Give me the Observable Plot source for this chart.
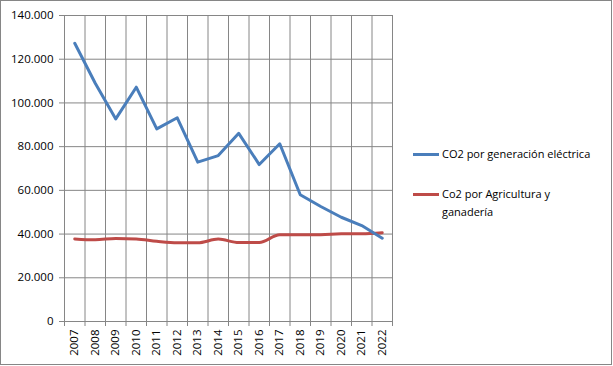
<!DOCTYPE html>
<html><head><meta charset="utf-8">
<script src="https://cdn.jsdelivr.net/npm/d3@7"></script>
<script src="https://cdn.jsdelivr.net/npm/@observablehq/plot@0.6"></script>
<style>
body{margin:0;background:#fff;}
#wrap{position:relative;width:613px;height:366px;overflow:hidden;}
#frame{position:absolute;left:0;top:0;width:610px;height:363px;border:1px solid #868686;pointer-events:none;}
.leg{position:absolute;font-family:"Open Sans",sans-serif;font-size:11px;color:#000;line-height:18px;white-space:nowrap;}
.sw{position:absolute;height:3px;width:26px;}
</style>
</head><body>
<div id="wrap"><div id="chart"></div><div id="frame"></div></div>
<script>
const years = [2007,2008,2009,2010,2011,2012,2013,2014,2015,2016,2017,2018,2019,2020,2021,2022];
const electrica = [127300,109000,92700,107200,88100,93200,72900,75900,86100,71800,81300,58000,52600,47700,43900,38100];
const agricultura = [37800,37400,38000,37800,36700,36000,36000,37700,36100,36100,39700,39700,39700,40100,40100,40600];
const yTicks = [0,20000,40000,60000,80000,100000,120000,140000];
const seriesNames = ["CO2 por generación eléctrica","Co2 por Agricultura y ganadería"];
const colors = ["#4a7ebb","#be4b48"];

const elecData = years.map((y,i)=>({year:y,value:electrica[i]}));
const agriData = years.map((y,i)=>({year:y,value:agricultura[i]}));
const bounds = [years[0]-0.5, ...years.map(y=>y+0.5)];
const fmt = d3.formatLocale({thousands:".",decimal:",",grouping:[3]}).format(",");

const plot = Plot.plot({
  width:613, height:366,
  marginLeft:64, marginRight:221, marginTop:15, marginBottom:45,
  x:{domain:[years[0]-0.5, years[years.length-1]+0.5]},
  y:{domain:[0,140000]},
  style:{fontFamily:"Open Sans, sans-serif", fontSize:"11px", color:"#000", background:"transparent"},
  marks:[
    Plot.ruleY(yTicks,{stroke:"#868686",strokeWidth:1,strokeOpacity:1}),
    Plot.ruleX(bounds,{stroke:"#868686",strokeWidth:1,strokeOpacity:1}),
    Plot.axisX(bounds,{tickSize:5,tickFormat:()=>"",stroke:"#868686",strokeOpacity:1,label:null}),
    Plot.axisX(years,{tickSize:0,tickRotate:-90,tickPadding:8,tickFormat:d=>String(d),label:null,fill:"#000",fontSize:11.5}),
    Plot.axisY(yTicks,{tickSize:5,tickPadding:6,tickFormat:d=>fmt(d),stroke:"#868686",strokeOpacity:1,label:null,fill:"#000",fontSize:11.5}),
    Plot.line(agriData,{x:"year",y:"value",stroke:colors[1],strokeWidth:3,curve:"monotone-x"}),
    Plot.line(elecData,{x:"year",y:"value",stroke:colors[0],strokeWidth:3,strokeLinejoin:"round"})
  ]
});
document.getElementById("chart").appendChild(plot);

const wrap = document.getElementById("wrap");
function addLegend(color, lines, y){
  const sw = document.createElement("div");
  sw.className="sw"; sw.style.background=color; sw.style.left="413px"; sw.style.top=(y-1.5)+"px";
  wrap.appendChild(sw);
  const t = document.createElement("div");
  t.className="leg"; t.style.left="442px"; t.style.top=(y-9)+"px";
  t.innerHTML = lines.join("<br>");
  wrap.appendChild(t);
}
addLegend(colors[0],[seriesNames[0]],154);
addLegend(colors[1],["Co2 por Agricultura y","ganadería"],194);
</script>
</body></html>
